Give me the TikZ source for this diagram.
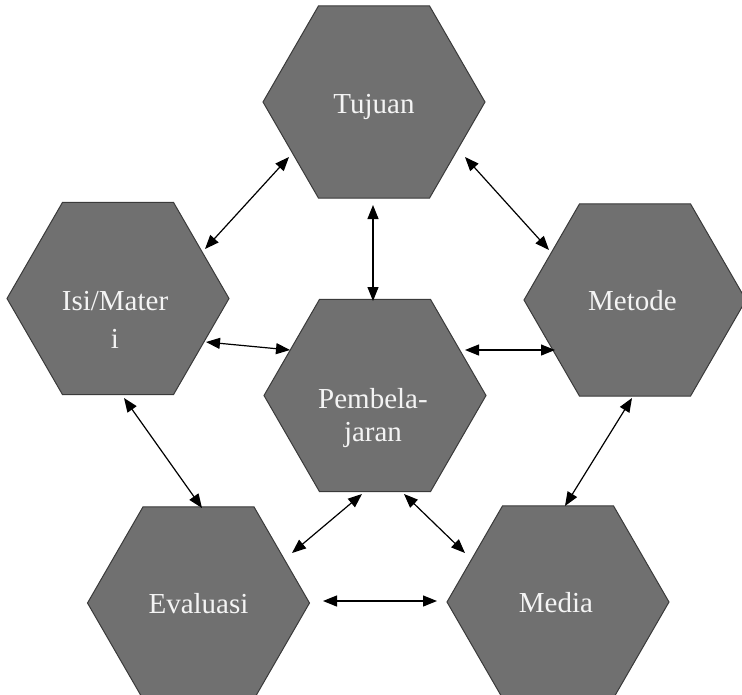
\documentclass[tikz,border=0pt]{standalone}
\usepackage{fontspec}
\setmainfont{Liberation Serif}
\usetikzlibrary{shapes.geometric,arrows.meta,calc}
\definecolor{hexfill}{HTML}{707070}
\definecolor{hexline}{HTML}{3A3A3A}
\definecolor{hextxt}{HTML}{F4F4F4}
\tikzset{
  hexbox/.style={shape=regular polygon, regular polygon sides=6, minimum size=222pt,
    inner sep=0pt, outer sep=0pt, fill=hexfill, draw=hexline, line width=1pt},
  hextext/.style={text=hextxt, font=\fontsize{29}{33}\selectfont, align=center, anchor=base, inner sep=0pt},
  link/.style={line width=1.2pt, {Triangle[length=14pt,width=11pt]}-{Triangle[length=14pt,width=11pt]}}
}
\begin{document}
\begin{tikzpicture}[x=1pt,y=-1pt]
\useasboundingbox (0,0) rectangle (742,694);
\clip (0,0) rectangle (742,694);
\node[hexbox] (tuj) at (374,102) {};
\node[hexbox] (isi) at (118,298.5) {};
\node[hexbox] (met) at (635,300) {};
\node[hexbox] (pem) at (375,395.5) {};
\node[hexbox] (eva) at (198.5,603) {};
\node[hexbox] (med) at (558,602) {};
\node[hextext] (tujt) at (374,113) {Tujuan};
\node[hextext] (isit) at (115,348) {Isi/Mater\\[5pt]i};
\node[hextext] (mett) at (632.5,310) {Metode};
\node[hextext] (pemt) at (373,441) {Pembela-\\jaran};
\node[hextext] (evat) at (198.5,613) {Evaluasi};
\node[hextext] (medt) at (556,612) {Media};
\draw[link] ($(tuj)+(-85,55)$) -- ($(isi)+(87,-49.5)$);
\draw[link] ($(tuj)+(91,55)$) -- ($(met)+(-86,-50)$);
\draw[link] ($(tuj)+(-1,103)$) -- ($(pem)+(-2,-94.5)$);
\draw[link] ($(isi)+(88,43.5)$) -- ($(pem)+(-85,-45.5)$);
\draw[link] ($(pem)+(90,-45.5)$) -- ($(met)+(-80,50)$);
\draw[link] ($(isi)+(6,99.5)$) -- ($(eva)+(3.5,-95)$);
\draw[link] ($(met)+(-3,98)$) -- ($(med)+(7,-96)$);
\draw[link] ($(pem)+(-13,98.5)$) -- ($(eva)+(93.5,-50)$);
\draw[link] ($(pem)+(29,98.5)$) -- ($(med)+(-93,-49)$);
\draw[link] ($(eva)+(124.5,-2)$) -- ($(med)+(-121,-1)$);
\end{tikzpicture}
\end{document}
